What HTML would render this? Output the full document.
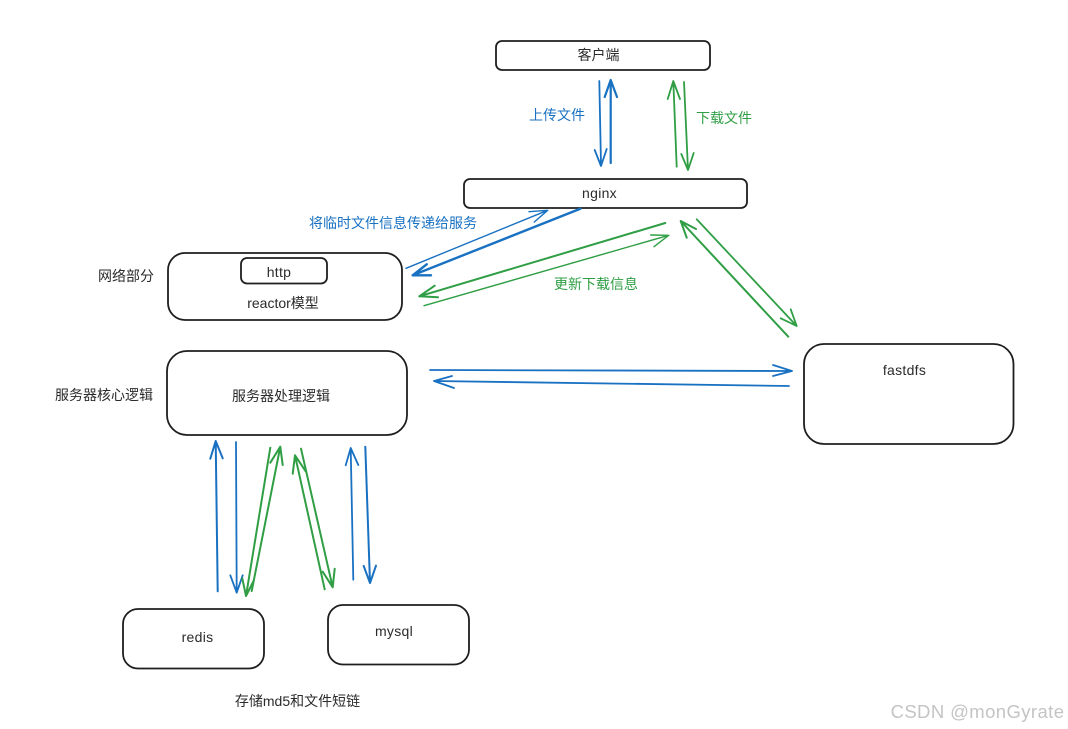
<!DOCTYPE html>
<html><head><meta charset="utf-8"><style>
html,body{margin:0;padding:0;background:#fff;width:1068px;height:729px;overflow:hidden}
svg{display:block}
text{font-family:"Liberation Sans","Noto Sans CJK SC",sans-serif;font-size:14px;fill:#2b2b2b;text-anchor:middle}
.b{fill:#1971c2}.g{fill:#2f9e44}
.l{letter-spacing:.3px}
rect{fill:#fff;stroke:#1e1e1e;stroke-width:1.8}
.bl,.gl{fill:none;stroke-linecap:round;stroke-linejoin:round;stroke-width:1.8}
.bl{stroke:#1971c2}.gl{stroke:#2f9e44}
</style></head><body>
<svg width="1068" height="729" viewBox="0 0 1068 729" xmlns="http://www.w3.org/2000/svg">
<rect x="496" y="41" width="214" height="29" rx="6"/>
<rect x="464" y="179" width="283" height="29" rx="6"/>
<rect x="168" y="253" width="234" height="67" rx="17"/>
<rect x="241" y="258" width="86" height="25.5" rx="6"/>
<rect x="167" y="351" width="240" height="84" rx="20"/>
<rect x="804" y="344" width="209.500" height="100" rx="20"/>
<rect x="123" y="609" width="141" height="59.500" rx="15"/>
<rect x="328" y="605" width="141" height="59.500" rx="15"/>

<g class="bl">
<path d="M599.300 81L601 165M594.700 150L601 166L606.700 149"/>
<path d="M610.700 163L610.700 80M604.700 97L610.700 80L617 97" stroke-width="2.200"/>
<path d="M406 268.300L547.700 210.300M529 211.700L547.700 210.300L534.300 222" stroke-width="1.400"/>
<path d="M580.300 208.700L412.700 275.300M426.700 264.300L412.700 275.300L431 275.300" stroke-width="2.400"/>
<path d="M430 370L792 371M773 365L792 371L773 376"/>
<path d="M789 386L434 381M452 376L434 381L454 388"/>
<path d="M217.700 591.300L215.700 441M210.300 458.700L215.700 441L222.700 458.300" stroke-width="2"/>
<path d="M236 442L236.700 592.700M230.300 575.300L236.700 592.700L242.700 575.300"/>
<path d="M353.300 579.700L350.700 448M345.700 465.300L350.700 448L358.300 465"/>
<path d="M365.300 446.700L370 583M363.700 566L370 583L376 565.700" stroke-width="2"/>
</g>
<g class="gl">
<path d="M676.700 166.700L673.300 81M667.700 99L673.300 81L680 99"/>
<path d="M684 82L688 170M681.300 154L688 170L693.700 153"/>
<path d="M665.300 223L419.300 296.300M434.700 285.700L419.300 296.300L438 297.300" stroke-width="2"/>
<path d="M424 305.700L668.700 235.300M650.700 235L668.700 235.300L654 246.700" stroke-width="1.400"/>
<path d="M696.700 219.300L796.700 326M780.700 318.300L796.700 326L790.700 309.300"/>
<path d="M788.300 336.700L680.700 221M696 229L680.700 221L686.700 237.700" stroke-width="2"/>
<path d="M270.300 447.700L246 596M242.300 578.300L246 596L253.700 580.700" stroke-width="2"/>
<path d="M251.700 591L280.300 446.700M270.300 462.700L280.300 446.700L282.700 465" stroke-width="2"/>
<path d="M301 448.700L332.700 587.300M322.700 571.700L332.700 587.300L334.700 568.700" stroke-width="2"/>
<path d="M324.700 589.300L295 455.300M292.700 473.700L295 455.300L305.700 471.300" stroke-width="2"/>
</g>

<text x="598.500" y="60">客户端</text>
<text class="l" x="599.500" y="198">nginx</text>
<text class="l" x="279" y="277">http</text>
<text x="283" y="308">reactor模型</text>
<text x="281" y="401">服务器处理逻辑</text>
<text class="l" x="904.500" y="375">fastdfs</text>
<text class="l" x="197.500" y="642">redis</text>
<text class="l" x="394" y="636">mysql</text>
<text x="297.500" y="706">存储md5和文件短链</text>
<text x="126" y="281">网络部分</text>
<text x="104" y="400">服务器核心逻辑</text>
<text class="b" x="557" y="120">上传文件</text>
<text class="g" x="724" y="123">下载文件</text>
<text class="b" x="393" y="228">将临时文件信息传递给服务</text>
<text class="g" x="596" y="289">更新下载信息</text>
<text x="977.500" y="718" style="font-size:18.500px;fill:#c4c4c4;letter-spacing:.4px">CSDN @monGyrate</text>
</svg>
</body></html>
